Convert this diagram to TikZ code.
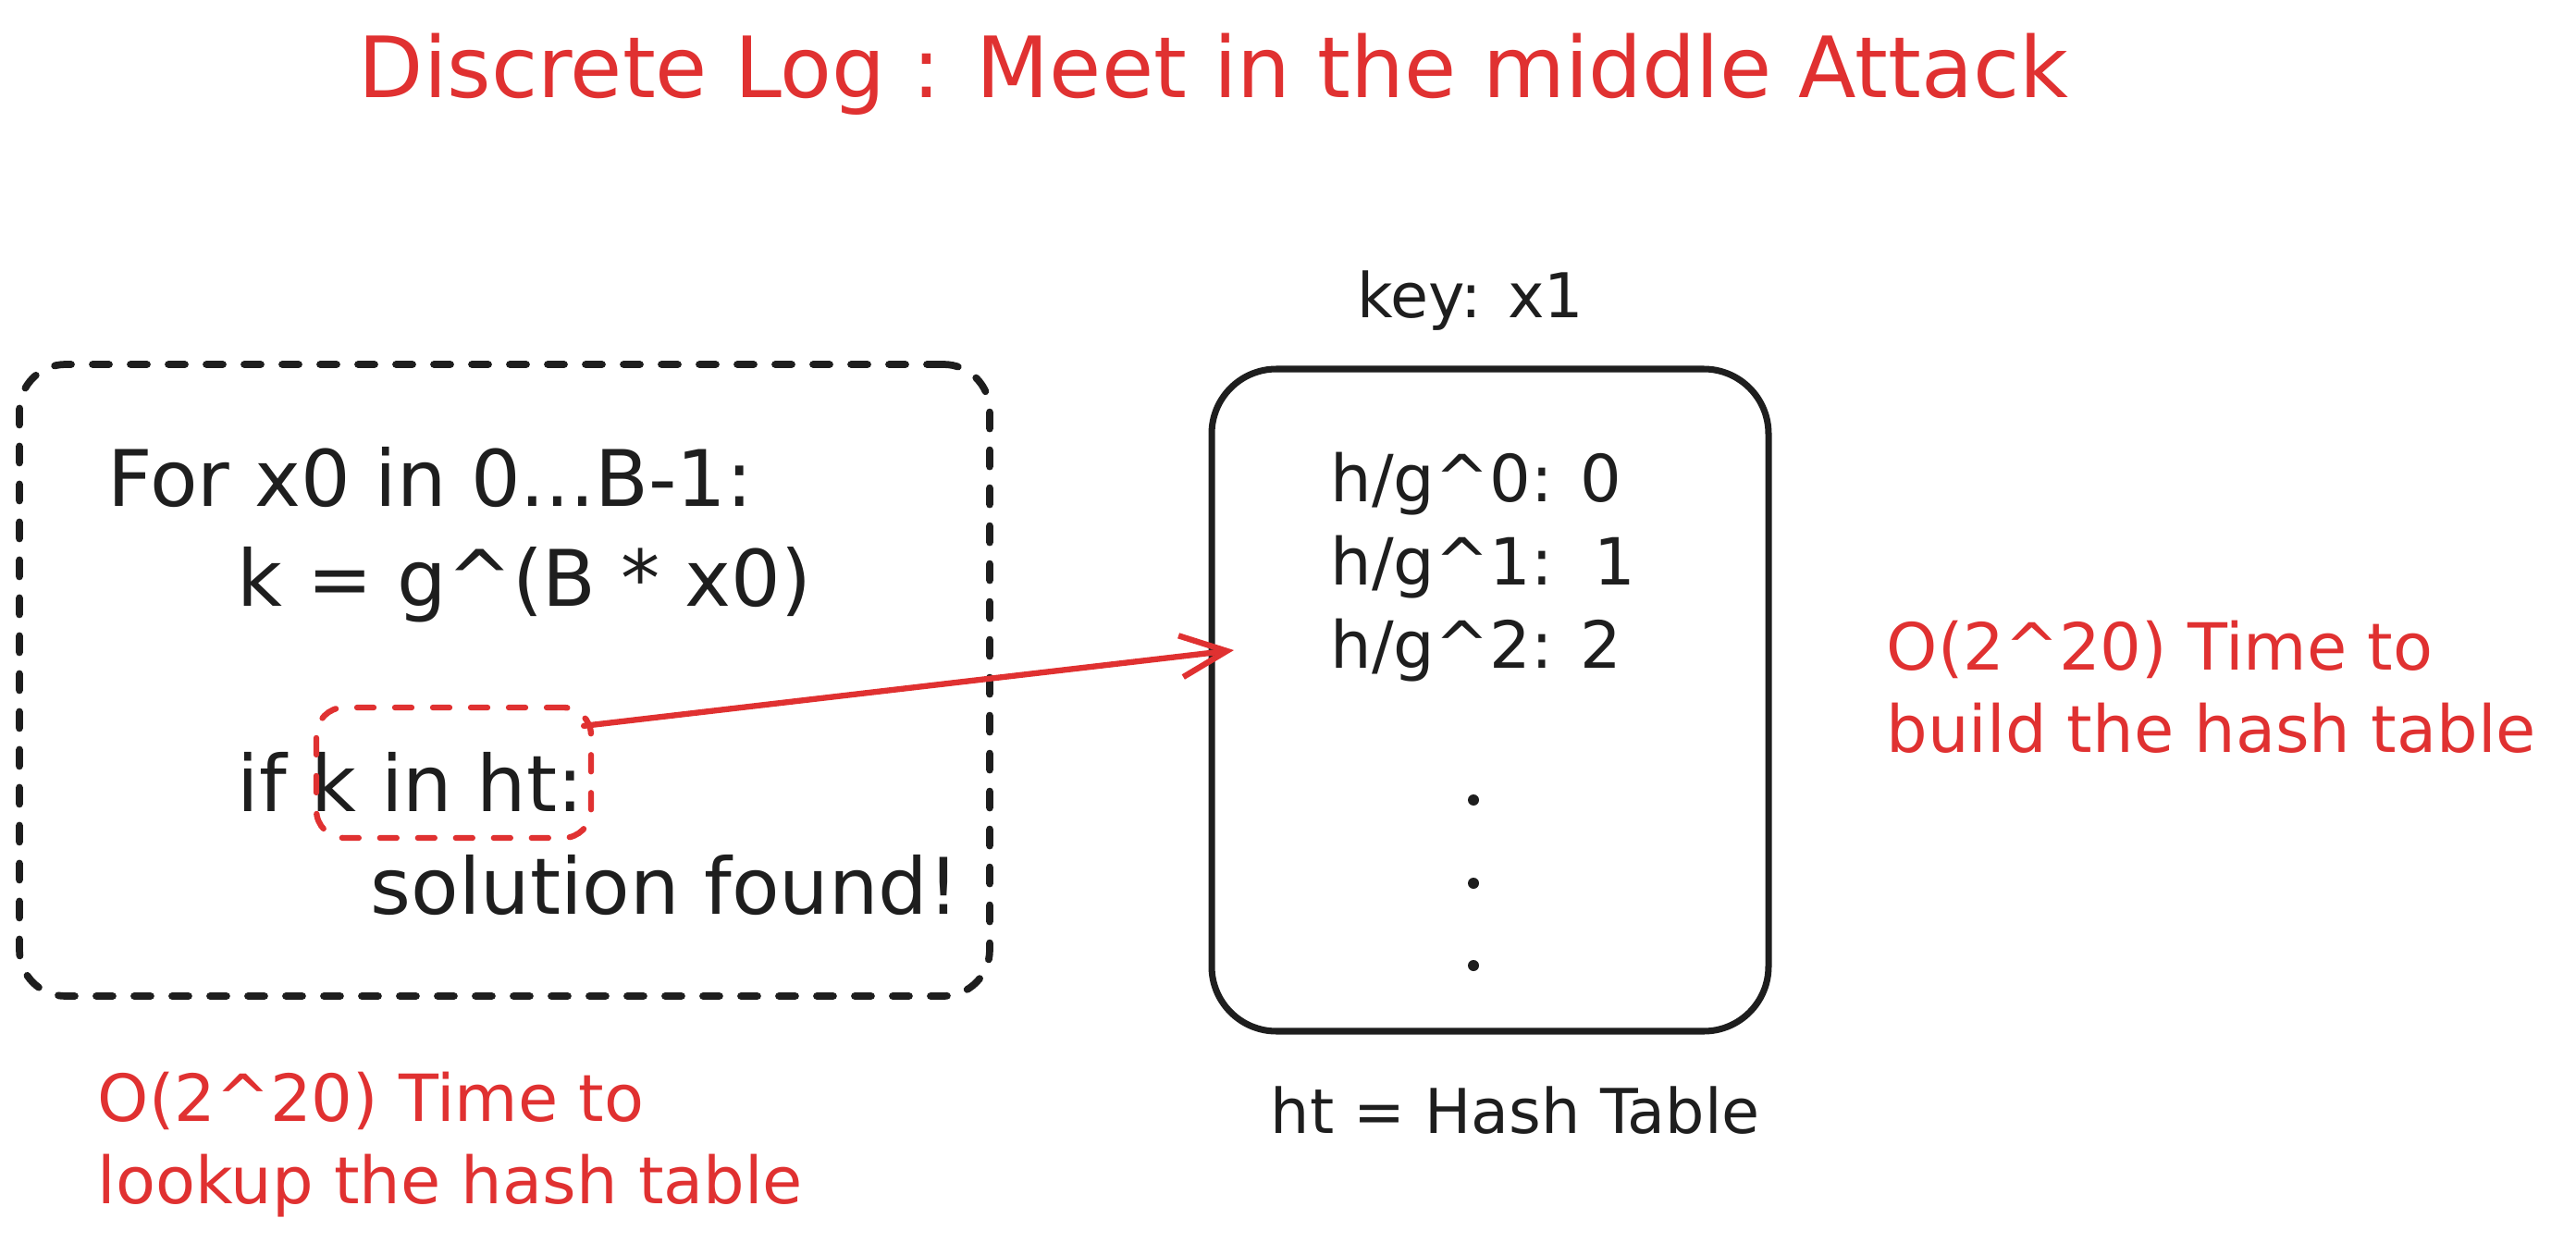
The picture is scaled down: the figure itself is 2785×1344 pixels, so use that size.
\documentclass[tikz,border=0pt]{standalone}
\usepackage{fontspec}
\setmainfont{DejaVu Sans}
\usetikzlibrary{arrows.meta}
\definecolor{exred}{HTML}{E03131}
\definecolor{inkblack}{HTML}{1E1E1E}
\tikzset{
  codeline/.style={anchor=base west, inner sep=0pt, text=inkblack, font=\fontsize{24}{29}\selectfont},
  htline/.style={anchor=base west, inner sep=0pt, text=inkblack, font=\fontsize{20}{24}\selectfont},
  note/.style={anchor=base west, inner sep=0pt, align=left, text=exred, font=\fontsize{20}{25.3}\selectfont},
  dashbox/.style={line width=2.2pt, line cap=round, dash pattern=on 1.8mm off 2.3mm},
}
\begin{document}
\begin{tikzpicture}[x=0.1mm, y=-0.1mm]
    \useasboundingbox (0,0) rectangle (2785,1344);
    \node[anchor=base west, inner sep=0pt, text=exred, font=\fontsize{26}{31}\selectfont] at (387,106) (title) {Discrete Log : Meet in the middle Attack};

    % loop that looks up the table
    \node[draw=inkblack, dashbox, rounded corners=5mm, minimum width=10.49cm, minimum height=6.83cm] at (545.5,735.5) (loopbox) {};
    \node[codeline] at (116,547) (for) {For x0 in 0...B-1:};
    \node[codeline] at (256,655) (kset) {k = g\^{}(B * x0)};
    \node[codeline] at (256,877) (iff) {if k in ht:};
    \node[codeline] at (400,988) (found) {solution found!};
    \node[draw=exred, dashbox, line width=1.8pt, rounded corners=3mm, minimum width=2.97cm, minimum height=1.41cm] at (490.5,835.5) (kbox) {};
    \node[note] at (105,1301) (lookup) {O(2\^{}20) Time to\\lookup the hash table};

    % hash table
    \node[anchor=base, inner sep=0pt, text=inkblack, font=\fontsize{19}{23}\selectfont] at (1590,343) (key) {key: x1};
    \node[draw=inkblack, line width=2pt, rounded corners=7mm, minimum width=6.02cm, minimum height=7.16cm] at (1611,757) (htbox) {};
    \node[htline] at (1438,542) (h0) {h/g\^{}0: 0};
    \node[htline] at (1438,632) (h1) {h/g\^{}1:\ \ 1};
    \node[htline] at (1438,722) (h2) {h/g\^{}2: 2};
    \foreach \y in {865, 955, 1044}
    \fill[inkblack] (1593,\y) circle (6);
    \node[anchor=base west, inner sep=0pt, text=inkblack, font=\fontsize{19}{23}\selectfont] at (1373,1225) (htname) {ht = Hash Table};
    \node[note] at (2039,813) (build) {O(2\^{}20) Time to\\build the hash table};

    \coordinate (tip) at (1334,703);
    \draw[exred, line width=1.8pt, line cap=round, -{Straight Barb[length=5mm, width=4.5mm]}] ([xshift=-1.1mm, yshift=-2.3mm]kbox.north east) -- (tip);
\end{tikzpicture}
\end{document}
